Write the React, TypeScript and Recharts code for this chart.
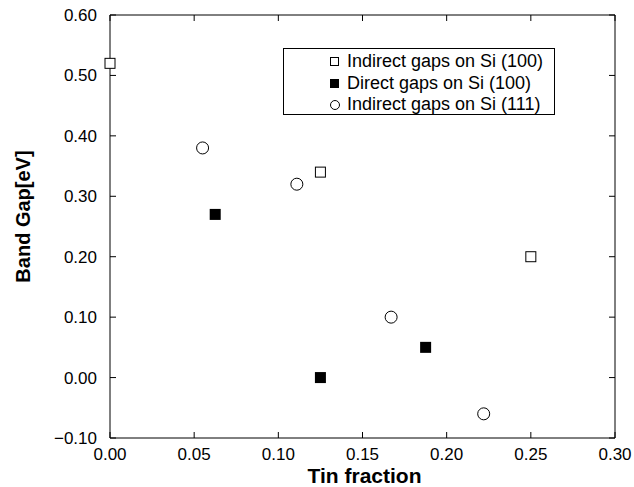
import React from "react"
import {
  ScatterChart,
  Scatter,
  XAxis,
  YAxis,
  Legend,
} from "recharts"

// tin fraction vs band gap (eV)
const indirect100X = [0.0, 0.125, 0.25]
const indirect100Y = [0.52, 0.34, 0.2]

const direct100X = [0.0625, 0.125, 0.1875]
const direct100Y = [0.27, 0.0, 0.05]

const indirect111X = [0.055, 0.111, 0.167, 0.222]
const indirect111Y = [0.38, 0.32, 0.1, -0.06]

const xTicks = [0, 0.05, 0.1, 0.15, 0.2, 0.25, 0.3]
const yTicks = [-0.1, 0, 0.1, 0.2, 0.3, 0.4, 0.5, 0.6]

const seriesNames = [
  "Indirect gaps on Si (100)",
  "Direct gaps on Si (100)",
  "Indirect gaps on Si (111)",
]

const zip = (xs: number[], ys: number[]) => xs.map((x, i) => ({ x, y: ys[i] }))

const indirect100 = zip(indirect100X, indirect100Y)
const direct100 = zip(direct100X, direct100Y)
const indirect111 = zip(indirect111X, indirect111Y)

const FONT = "'Liberation Sans', Arial, Helvetica, sans-serif"

const OpenSquare = (props: any) => {
  const { cx, cy } = props
  if (cx == null || cy == null) return null
  return <rect x={cx - 5} y={cy - 5} width={10} height={10} fill="#fff" stroke="#000" strokeWidth={1} />
}

const FilledSquare = (props: any) => {
  const { cx, cy } = props
  if (cx == null || cy == null) return null
  return <rect x={cx - 5.5} y={cy - 5.5} width={11} height={11} fill="#000" />
}

const OpenCircle = (props: any) => {
  const { cx, cy } = props
  if (cx == null || cy == null) return null
  return <circle cx={cx} cy={cy} r={6} fill="#fff" stroke="#000" strokeWidth={1} />
}

const legendIcons = [
  <svg width={9} height={9} key="a"><rect x={0.5} y={0.5} width={8} height={8} fill="#fff" stroke="#000" /></svg>,
  <svg width={9} height={9} key="b"><rect x={0} y={0} width={9} height={9} fill="#000" /></svg>,
  <svg width={10} height={10} key="c"><circle cx={5} cy={5} r={4.5} fill="#fff" stroke="#000" /></svg>,
]

const renderLegend = () => (
  <div
    style={{
      border: "1px solid #000",
      background: "#fff",
      width: 272,
      height: 67,
      boxSizing: "border-box",
      paddingLeft: 46,
      paddingTop: 2,
      fontFamily: FONT,
      fontSize: 18,
      whiteSpace: "nowrap",
      color: "#000",
    }}
  >
    {seriesNames.map((name, i) => (
      <div key={name} style={{ display: "flex", alignItems: "center", height: 21.5 }}>
        <div style={{ width: 17, display: "flex", alignItems: "center" }}>{legendIcons[i]}</div>
        <span>{name}</span>
      </div>
    ))}
  </div>
)

const fmt = (v: number) => v.toFixed(2).replace("-", "\u2212")

const tickStyle = { fontSize: 17, fill: "#000", fontFamily: FONT }

const YTitle = (props: any) => {
  const { viewBox } = props
  const x = viewBox.x + 23
  const y = viewBox.y + viewBox.height / 2 - 10
  return (
    <text
      x={x}
      y={y}
      transform={`rotate(-90, ${x}, ${y})`}
      textAnchor="middle"
      dominantBaseline="central"
      fontSize={20}
      fontWeight="bold"
      fontFamily={FONT}
      fill="#000"
    >
      Band Gap[eV]
    </text>
  )
}

export default function App() {
  return (
    <div style={{ position: "absolute", left: 0, top: 0, background: "#fff" }}>
      <ScatterChart width={634} height={487} margin={{ top: 14, right: 18, left: 0, bottom: 0 }}>
        <XAxis
          type="number"
          dataKey="x"
          domain={[0, 0.3]}
          ticks={xTicks}
          tickFormatter={fmt}
          tickSize={-6}
          tickMargin={16}
          tick={tickStyle}
          height={49}
          axisLine={{ stroke: "#000" }}
          tickLine={{ stroke: "#000" }}
          label={{
            value: "Tin fraction",
            position: "insideBottom",
            offset: 4,
            dx: 2,
            style: { fontSize: 21, fontWeight: "bold", fill: "#000", fontFamily: FONT },
          }}
        />
        <XAxis
          xAxisId="top"
          orientation="top"
          type="number"
          dataKey="x"
          domain={[0, 0.3]}
          ticks={xTicks}
          tickFormatter={() => ""}
          tickSize={-6}
          height={1}
          axisLine={{ stroke: "#000" }}
          tickLine={{ stroke: "#000" }}
        />
        <YAxis
          type="number"
          dataKey="y"
          domain={[-0.1, 0.6]}
          ticks={yTicks}
          tickFormatter={fmt}
          tickSize={-6}
          tickMargin={19}
          tick={tickStyle}
          width={110}
          axisLine={{ stroke: "#000" }}
          tickLine={{ stroke: "#000" }}
          label={{ content: YTitle }}
        />
        <YAxis
          yAxisId="right"
          orientation="right"
          type="number"
          dataKey="y"
          domain={[-0.1, 0.6]}
          ticks={yTicks}
          tickFormatter={() => ""}
          tickSize={-6}
          width={1}
          axisLine={{ stroke: "#000" }}
          tickLine={{ stroke: "#000" }}
        />
        <Legend
          layout="vertical"
          align="center"
          verticalAlign="middle"
          content={renderLegend}
          wrapperStyle={{ left: 283, top: 48, width: 273 }}
        />
        <Scatter name={seriesNames[0]} data={indirect100} shape={OpenSquare} isAnimationActive={false} />
        <Scatter name={seriesNames[1]} data={direct100} shape={FilledSquare} isAnimationActive={false} />
        {/* same domains on the top/right axes, so this also keeps the frame axes alive */}
        <Scatter
          name={seriesNames[2]}
          data={indirect111}
          xAxisId="top"
          yAxisId="right"
          shape={OpenCircle}
          isAnimationActive={false}
        />
      </ScatterChart>
    </div>
  )
}
